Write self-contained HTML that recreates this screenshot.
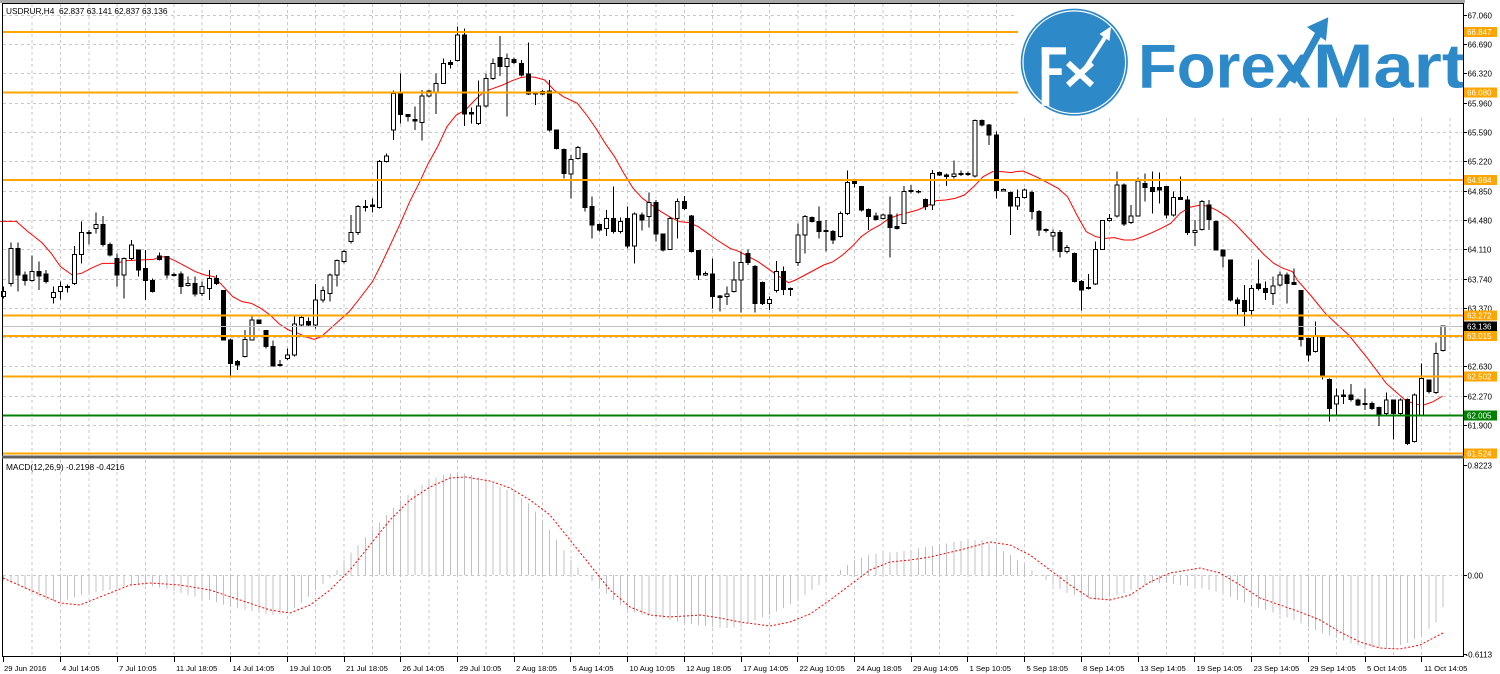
<!DOCTYPE html>
<html><head><meta charset="utf-8">
<style>
html,body{margin:0;padding:0;background:#fff;}
body{width:1500px;height:674px;overflow:hidden;}
svg{display:block}
text{font-family:"Liberation Sans",sans-serif;}
.k *{vector-effect:non-scaling-stroke;shape-rendering:crispEdges;}
.w{fill:#fff;stroke:#000;stroke-width:1}
.b{fill:#000;stroke:#000;stroke-width:1}
.ax{font-size:8px;fill:#000}
.lb{font-size:8px;fill:#fff}
.tl{font-size:7.7px;fill:#000}
</style></head><body>
<svg width="1500" height="674" viewBox="0 0 1500 674" xmlns="http://www.w3.org/2000/svg">
<defs>
<clipPath id="mc" clipPathUnits="userSpaceOnUse"><polygon points="-0.3,0 -0.3,5 2,10 4,18 6,25 8,27 10,22 12,18 15,15 18,10 20,10 23,14 26,20 29,25 32,32 35,36 38,40 40,38 42,28 44,15 46,3 47,-5 48,-15 50,-30 52,-45 54,-60 56,-75 58,-85 60,-95 62,-100 64,-103 66,-100 68,-95 70,-88 72,-82 74,-72 76,-55 78,-35 80,-15 82,0 84,12 86,25 88,35 90,40 92,42 94,45 96,48 98,50 100,52 102,53 104,52 106,45 108,40 110,33 112,25 114,15 116,5 118,-5 120,-15 122,-20 124,-22 126,-23 128,-25 130,-28 132,-30 134,-33 136,-35 138,-35 140,-28 142,-20 144,-10 146,0 148,10 150,18 152,22 154,25 156,22 158,18 160,12 162,8 164,8 166,10 168,12 170,15 172,18 174,25 176,30 178,35 180,40 182,45 184,52 186,58 188,63 190,68 192,72 194,73 196,72 198,68 200,60 202,48 203,32 203.3,32 203.3,0"/></clipPath>
<clipPath id="lc"><rect x="1000" y="0" width="463" height="120"/></clipPath>
</defs>

<rect x="0" y="0" width="1500" height="674" fill="#fff"/>

<!-- grid -->
<g stroke="#c8c8c8" stroke-width="1" stroke-dasharray="3 3" fill="none" shape-rendering="crispEdges">
<path d="M3 15.5H1462M3 44.5H1462M3 73.5H1462M3 103.5H1462M3 132.5H1462M3 161.5H1462M3 191.5H1462M3 220.5H1462M3 249.5H1462M3 279.5H1462M3 308.5H1462M3 337.5H1462M3 366.5H1462M3 396.5H1462M3 425.5H1462M3 575.5H1462"/>
</g>
<g class="k" transform="translate(3.7,0) scale(28.36,1)" stroke="#c8c8c8" stroke-width="1" stroke-dasharray="3 3" fill="none">
<path d="M1 4V455m1-451v451m1-451v451m1-451v451m1-451v451m1-451v451m1-451v451m1-451v451m1-451v451m1-451v451m1-451v451m1-451v451m1-451v451m1-451v451m1-451v451m1-451v451m1-451v451m1-451v451m1-451v451m1-451v451m1-451v451m1-451v451m1-451v451m1-451v451m1-451v451m1-451v451m1-451v451m1-451v451m1-451v451m1-451v451m1-451v451m1-451v451m1-451v451m1-451v451m1-451v451m1-451v451m1-451v451m1-451v451m1-451v451m1-451v451m1-451v451m1-451v451m1-451v451m1-451v451m1-451v451m1-451v451m1-451v451m1-451v451m1-451v451m1-451v451m1-451v451"/>
<path d="M1 460V656m1-196v196m1-196v196m1-196v196m1-196v196m1-196v196m1-196v196m1-196v196m1-196v196m1-196v196m1-196v196m1-196v196m1-196v196m1-196v196m1-196v196m1-196v196m1-196v196m1-196v196m1-196v196m1-196v196m1-196v196m1-196v196m1-196v196m1-196v196m1-196v196m1-196v196m1-196v196m1-196v196m1-196v196m1-196v196m1-196v196m1-196v196m1-196v196m1-196v196m1-196v196m1-196v196m1-196v196m1-196v196m1-196v196m1-196v196m1-196v196m1-196v196m1-196v196m1-196v196m1-196v196m1-196v196m1-196v196m1-196v196m1-196v196m1-196v196"/>
</g>

<!-- logo -->
<g clip-path="url(#lc)">
<rect x="1017" y="4" width="446" height="111" fill="#fff"/>
<circle cx="1074.3" cy="62.2" r="53.6" fill="#2e89c9"/>
<circle cx="1074.3" cy="62.2" r="51.3" fill="none" stroke="#fff" stroke-width="1.2"/>
<rect x="1041.7" y="47.3" width="7.6" height="58.5" fill="#fff"/>
<rect x="1041.7" y="47.3" width="24.3" height="7.2" fill="#fff"/>
<rect x="1041.7" y="68.3" width="20" height="6.7" fill="#fff"/>
<path d="M1068 63L1092 85M1092 63L1068 85" stroke="#fff" stroke-width="6"/>
<path d="M1084 70L1106 36" stroke="#fff" stroke-width="4"/>
<polygon points="1111,26.5 1099.5,34 1109.5,41" fill="#fff"/>
<text x="1138" y="87.3" font-size="62" font-weight="bold" fill="#2e89c9" textLength="173" lengthAdjust="spacingAndGlyphs">Forex</text>
<text x="1313" y="87.3" font-size="62" font-weight="bold" fill="#2e89c9" textLength="153" lengthAdjust="spacingAndGlyphs">Mart</text>
<path d="M1292 82L1319 33" stroke="#2e89c9" stroke-width="7"/>
<polygon points="1328.3,17.3 1307,27 1326,41" fill="#2e89c9"/>
</g>

<!-- moving average -->
<g fill="none" stroke="#ff0000" stroke-width="1">
<polyline style="vector-effect:non-scaling-stroke" transform="translate(0,20) scale(0.46556,0.333333)" points="0,604 35,604 60,635 90,668 110,700 130,740 155,765 175,760 200,742 220,730 250,730 270,722 300,720 330,718 345,710 360,712 380,725 400,740 420,755 440,765 460,770 480,800 500,830 520,845 540,850 560,865 580,885 600,912 620,930 640,940 660,952 675,958 690,950 710,925 730,900 750,875 770,840 800,785 820,730 840,670 860,610 880,545 900,490 920,430 940,380 960,320 980,285 1000,270 1020,240 1040,215 1060,205 1080,195 1100,182 1120,172 1135,170 1150,172 1170,180 1190,210 1210,230 1240,250 1260,285 1280,325 1300,370 1320,410 1340,460 1360,505 1380,535 1400,555 1420,575 1440,592 1460,605 1480,608 1500,620 1520,640 1540,660 1568,685"/>
<polyline style="vector-effect:non-scaling-stroke" transform="translate(730,100) scale(0.46875,0.333333)" points="0,445 20,455 40,470 60,485 80,505 100,525 125,548 140,540 160,525 180,510 200,495 220,485 240,465 260,440 280,410 300,390 320,375 340,355 360,345 380,338 400,330 420,318 440,302 460,300 480,295 500,285 520,260 540,230 560,215 580,215 600,218 610,215 625,213 640,222 660,235 680,250 700,265 720,290 740,345 760,395 780,410 800,415 820,413 840,420 860,420 880,410 900,398 920,385 940,370 960,340 980,322 1000,316 1020,318 1040,332 1060,350 1080,375 1100,405 1120,435 1140,465 1160,490 1180,505 1200,515 1210,540 1240,588 1270,640 1300,680 1320,705 1340,740 1360,775 1380,812 1400,850 1420,875 1440,900 1460,912 1480,915 1500,905 1520,888"/>
</g>

<!-- candles part 1 -->
<g class="k" transform="translate(3.7,20) scale(7.09,0.333333)">
<path stroke="#000" stroke-width="1" fill="none" d="M0 800V835M1 668V800M2 668V815M3 755V797M4 707V785M5 725V810M6 750V790M7 800V850M8 785V838M9 793V818M10 678V795M11 605V730M12 630V673M13 577V640M14 588V680M15 668V710M16 700V800M17 712V835M18 660V720M19 690V770M20 690V840M21 775V818M22 698V722M23 710V775M24 758V770M25 755V822M26 770V800M27 770V830M28 785V828M29 750V840M30 765V795M31 812V960M32 955V1070M33 1020V1050M34 930V1012M35 888V962M36 898V912M37 930V985M38 962V1040M39 1020V1040M40 985V1020M41 885V1010M42 885V920M43 892V920M44 792V925M45 800V848M46 760V845M47 718V800M48 688V730M49 585V670M50 555V645M51 540V575M52 535V578M53 420V565M54 400V428M55 212V360M56 160V310M57 283V305M58 260V330M59 210V362M60 210V232M61 160V282M62 115V192M63 120V145M64 20V125M65 25V318M66 262V310M67 182V315M68 160V262M69 115V180M70 48V168M71 100V290M72 112V132M73 120V170M74 68V225M75 215V255M76 210V225M77 180V335M78 330V388M79 385V475M80 405V535M81 378V418M82 400V575M83 530V655M84 610V635M85 570V648M86 500V640M87 592V640M88 560V685M89 578V730M90 578V632M91 518V622M92 540V665M93 640V695M94 590V690M95 535V655M96 528V570M97 585V698M98 690V780M99 755V768M100 715V865M101 825V875M102 800V855"/>
</g>
<g class="k" transform="translate(1.7,20) scale(7.09,0.333333)">
<rect class="w" x="0" y="815" width=".564" height="15"/>
<rect class="w" x="1" y="685" width=".564" height="105"/>
<rect class="b" x="2" y="685" width=".564" height="80"/>
<rect class="b" x="3" y="765" width=".564" height="17"/>
<rect class="w" x="4" y="755" width=".564" height="27"/>
<rect class="b" x="5" y="755" width=".564" height="13"/>
<rect class="b" x="6" y="762" width=".564" height="23"/>
<rect class="w" x="7" y="818" width=".564" height="14"/>
<rect class="w" x="8" y="800" width=".564" height="15"/>
<rect class="w" x="9" y="800" width=".564" height="3"/>
<rect class="w" x="10" y="703" width=".564" height="87"/>
<rect class="w" x="11" y="637" width=".564" height="66"/>
<rect class="w" x="12" y="637" width=".564" height="4"/>
<rect class="w" x="13" y="613" width=".564" height="12"/>
<rect class="b" x="14" y="613" width=".564" height="60"/>
<rect class="b" x="15" y="673" width=".564" height="32"/>
<rect class="b" x="16" y="715" width=".564" height="50"/>
<rect class="w" x="17" y="715" width=".564" height="50"/>
<rect class="w" x="18" y="675" width=".564" height="40"/>
<rect class="b" x="19" y="690" width=".564" height="60"/>
<rect class="b" x="20" y="745" width=".564" height="37"/>
<rect class="b" x="21" y="782" width=".564" height="33"/>
<rect class="b" x="22" y="708" width=".564" height="10"/>
<rect class="b" x="23" y="710" width=".564" height="55"/>
<rect class="b" x="24" y="764" width=".564" height="2"/>
<rect class="b" x="25" y="762" width=".564" height="38"/>
<rect class="w" x="26" y="790" width=".564" height="7"/>
<rect class="b" x="27" y="790" width=".564" height="32"/>
<rect class="w" x="28" y="800" width=".564" height="20"/>
<rect class="w" x="29" y="775" width=".564" height="30"/>
<rect class="b" x="30" y="775" width=".564" height="15"/>
<rect class="b" x="31" y="812" width=".564" height="148"/>
<rect class="b" x="32" y="960" width=".564" height="70"/>
<rect class="b" x="33" y="1025" width=".564" height="10"/>
<rect class="w" x="34" y="958" width=".564" height="52"/>
<rect class="w" x="35" y="900" width=".564" height="60"/>
<rect class="b" x="36" y="900" width=".564" height="10"/>
<rect class="b" x="37" y="932" width=".564" height="48"/>
<rect class="b" x="38" y="980" width=".564" height="58"/>
<rect class="b" x="39" y="1034" width=".564" height="2"/>
<rect class="w" x="40" y="1005" width=".564" height="10"/>
<rect class="w" x="41" y="912" width=".564" height="93"/>
<rect class="w" x="42" y="893" width=".564" height="22"/>
<rect class="b" x="43" y="905" width=".564" height="10"/>
<rect class="w" x="44" y="840" width=".564" height="75"/>
<rect class="w" x="45" y="812" width=".564" height="28"/>
<rect class="w" x="46" y="765" width=".564" height="55"/>
<rect class="w" x="47" y="722" width=".564" height="43"/>
<rect class="w" x="48" y="695" width=".564" height="30"/>
<rect class="w" x="49" y="638" width=".564" height="27"/>
<rect class="w" x="50" y="560" width=".564" height="78"/>
<rect class="b" x="51" y="560" width=".564" height="3"/>
<rect class="b" x="52" y="555" width=".564" height="5"/>
<rect class="w" x="53" y="425" width=".564" height="137"/>
<rect class="w" x="54" y="408" width=".564" height="17"/>
<rect class="w" x="55" y="220" width=".564" height="110"/>
<rect class="b" x="56" y="220" width=".564" height="63"/>
<rect class="b" x="57" y="283" width=".564" height="7"/>
<rect class="b" x="58" y="298" width=".564" height="5"/>
<rect class="w" x="59" y="228" width=".564" height="80"/>
<rect class="w" x="60" y="213" width=".564" height="15"/>
<rect class="w" x="61" y="190" width=".564" height="28"/>
<rect class="w" x="62" y="130" width=".564" height="60"/>
<rect class="b" x="63" y="128" width=".564" height="5"/>
<rect class="w" x="64" y="45" width=".564" height="77"/>
<rect class="b" x="65" y="45" width=".564" height="237"/>
<rect class="b" x="66" y="278" width=".564" height="4"/>
<rect class="w" x="67" y="258" width=".564" height="52"/>
<rect class="w" x="68" y="175" width=".564" height="83"/>
<rect class="w" x="69" y="130" width=".564" height="45"/>
<rect class="b" x="70" y="112" width=".564" height="28"/>
<rect class="w" x="71" y="115" width=".564" height="25"/>
<rect class="b" x="72" y="118" width=".564" height="10"/>
<rect class="b" x="73" y="130" width=".564" height="35"/>
<rect class="b" x="74" y="162" width=".564" height="60"/>
<rect class="b" x="75" y="218" width=".564" height="4"/>
<rect class="w" x="76" y="215" width=".564" height="7"/>
<rect class="b" x="77" y="213" width=".564" height="117"/>
<rect class="b" x="78" y="330" width=".564" height="55"/>
<rect class="b" x="79" y="388" width=".564" height="72"/>
<rect class="w" x="80" y="418" width=".564" height="44"/>
<rect class="w" x="81" y="382" width=".564" height="33"/>
<rect class="b" x="82" y="400" width=".564" height="162"/>
<rect class="b" x="83" y="560" width=".564" height="55"/>
<rect class="b" x="84" y="613" width=".564" height="17"/>
<rect class="w" x="85" y="595" width=".564" height="30"/>
<rect class="b" x="86" y="595" width=".564" height="40"/>
<rect class="w" x="87" y="605" width=".564" height="30"/>
<rect class="b" x="88" y="595" width=".564" height="83"/>
<rect class="w" x="89" y="582" width=".564" height="96"/>
<rect class="b" x="90" y="585" width=".564" height="15"/>
<rect class="w" x="91" y="548" width=".564" height="42"/>
<rect class="b" x="92" y="548" width=".564" height="94"/>
<rect class="b" x="93" y="642" width=".564" height="48"/>
<rect class="w" x="94" y="595" width=".564" height="93"/>
<rect class="w" x="95" y="545" width=".564" height="50"/>
<rect class="b" x="96" y="545" width=".564" height="20"/>
<rect class="b" x="97" y="588" width=".564" height="107"/>
<rect class="b" x="98" y="692" width=".564" height="73"/>
<rect class="w" x="99" y="760" width=".564" height="5"/>
<rect class="b" x="100" y="762" width=".564" height="68"/>
<rect class="b" x="101" y="828" width=".564" height="4"/>
<rect class="w" x="102" y="822" width=".564" height="8"/>
</g>

<!-- candles part 2 -->
<g class="k" transform="translate(3.7,100) scale(7.09,0.333333)">
<path stroke="#000" stroke-width="1" fill="none" d="M103 485V578M104 455V637M105 448V495M106 495V637M107 545V615M108 590V630M109 483V578M110 500V585M111 562V588M112 370V498M113 345V460M114 350V368M115 320V415M116 360V455M117 390V432M118 335V412M119 212V345M120 238V262M121 258V335M122 325V390M123 338V362M124 340V358M125 290V472M126 340V388M127 258V372M128 255V280M129 270V280M130 295V330M131 210V330M132 215V228M133 220V258M134 182V235M135 212V228M136 215V228M137 58V232M138 58V80M139 72V135M140 95V295M141 265V275M142 275V405M143 268V330M144 265V295M145 272V358M146 330V408M147 385V398M148 388V452M149 390V472M150 435V460M151 458V548M152 540V632M153 522V568M154 425V555M155 360V450M156 342V364M157 215V352M158 250V378M159 315V372M160 232V350M161 220V305M162 215V340M163 218V310M164 258V355M165 275V350M166 230V300M167 288V405M168 360V438M169 300V392M170 300V390M171 362V452M172 448V502M173 478V605M174 592V645M175 555V680M176 555V645M177 478V572M178 545V600M179 530V615M180 515V560M181 518V610M182 505V555M183 570V740M184 712V785M185 665V758M186 710V838M187 835V965M188 865V950M189 868V912M190 852V905M191 895V918M192 865V930M193 905V930M194 920V978M195 878V945M196 898V1018M197 895V945M198 895V1035M199 880V1028M200 790V948M201 838V880M202 728V882M203 678V755"/>
</g>
<g class="k" transform="translate(1.7,100) scale(7.09,0.333333)">
<rect class="w" x="103" y="540" width=".564" height="35"/>
<rect class="w" x="104" y="488" width=".564" height="52"/>
<rect class="b" x="105" y="460" width=".564" height="28"/>
<rect class="b" x="106" y="500" width=".564" height="110"/>
<rect class="b" x="107" y="548" width=".564" height="62"/>
<rect class="w" x="108" y="598" width=".564" height="12"/>
<rect class="w" x="109" y="515" width=".564" height="57"/>
<rect class="b" x="110" y="515" width=".564" height="53"/>
<rect class="b" x="111" y="566" width=".564" height="3"/>
<rect class="w" x="112" y="405" width=".564" height="83"/>
<rect class="w" x="113" y="350" width=".564" height="55"/>
<rect class="b" x="114" y="352" width=".564" height="13"/>
<rect class="b" x="115" y="365" width=".564" height="30"/>
<rect class="b" x="116" y="392" width=".564" height="3"/>
<rect class="b" x="117" y="395" width=".564" height="25"/>
<rect class="w" x="118" y="340" width=".564" height="70"/>
<rect class="w" x="119" y="248" width=".564" height="92"/>
<rect class="b" x="120" y="245" width=".564" height="5"/>
<rect class="b" x="121" y="260" width=".564" height="70"/>
<rect class="b" x="122" y="328" width=".564" height="22"/>
<rect class="b" x="123" y="348" width=".564" height="10"/>
<rect class="w" x="124" y="345" width=".564" height="10"/>
<rect class="b" x="125" y="345" width=".564" height="37"/>
<rect class="b" x="126" y="380" width=".564" height="5"/>
<rect class="w" x="127" y="275" width=".564" height="95"/>
<rect class="b" x="128" y="272" width=".564" height="2"/>
<rect class="b" x="129" y="274" width=".564" height="2"/>
<rect class="b" x="130" y="298" width=".564" height="22"/>
<rect class="w" x="131" y="220" width=".564" height="95"/>
<rect class="b" x="132" y="218" width=".564" height="7"/>
<rect class="b" x="133" y="225" width=".564" height="5"/>
<rect class="w" x="134" y="222" width=".564" height="8"/>
<rect class="b" x="135" y="221" width=".564" height="2"/>
<rect class="b" x="136" y="221" width=".564" height="2"/>
<rect class="w" x="137" y="62" width=".564" height="166"/>
<rect class="b" x="138" y="62" width=".564" height="13"/>
<rect class="b" x="139" y="75" width=".564" height="30"/>
<rect class="b" x="140" y="105" width=".564" height="167"/>
<rect class="w" x="141" y="268" width=".564" height="5"/>
<rect class="b" x="142" y="278" width=".564" height="40"/>
<rect class="w" x="143" y="292" width=".564" height="26"/>
<rect class="w" x="144" y="270" width=".564" height="22"/>
<rect class="b" x="145" y="278" width=".564" height="57"/>
<rect class="b" x="146" y="335" width=".564" height="55"/>
<rect class="b" x="147" y="389" width=".564" height="2"/>
<rect class="w" x="148" y="398" width=".564" height="10"/>
<rect class="b" x="149" y="398" width=".564" height="57"/>
<rect class="w" x="150" y="442" width=".564" height="13"/>
<rect class="b" x="151" y="460" width=".564" height="85"/>
<rect class="b" x="152" y="545" width=".564" height="25"/>
<rect class="b" x="153" y="562" width=".564" height="4"/>
<rect class="w" x="154" y="448" width=".564" height="104"/>
<rect class="w" x="155" y="362" width=".564" height="86"/>
<rect class="w" x="156" y="355" width=".564" height="7"/>
<rect class="w" x="157" y="255" width=".564" height="93"/>
<rect class="b" x="158" y="255" width=".564" height="117"/>
<rect class="w" x="159" y="348" width=".564" height="20"/>
<rect class="w" x="160" y="243" width=".564" height="105"/>
<rect class="b" x="161" y="250" width=".564" height="12"/>
<rect class="b" x="162" y="262" width=".564" height="13"/>
<rect class="b" x="163" y="262" width=".564" height="8"/>
<rect class="b" x="164" y="260" width=".564" height="85"/>
<rect class="w" x="165" y="292" width=".564" height="53"/>
<rect class="b" x="166" y="292" width=".564" height="6"/>
<rect class="b" x="167" y="300" width=".564" height="98"/>
<rect class="w" x="168" y="392" width=".564" height="6"/>
<rect class="w" x="169" y="305" width=".564" height="83"/>
<rect class="b" x="170" y="315" width=".564" height="43"/>
<rect class="b" x="171" y="365" width=".564" height="85"/>
<rect class="b" x="172" y="450" width=".564" height="18"/>
<rect class="b" x="173" y="480" width=".564" height="120"/>
<rect class="b" x="174" y="600" width=".564" height="10"/>
<rect class="b" x="175" y="602" width=".564" height="33"/>
<rect class="w" x="176" y="565" width=".564" height="67"/>
<rect class="b" x="177" y="552" width=".564" height="13"/>
<rect class="b" x="178" y="565" width=".564" height="13"/>
<rect class="w" x="179" y="558" width=".564" height="22"/>
<rect class="w" x="180" y="525" width=".564" height="30"/>
<rect class="b" x="181" y="525" width=".564" height="25"/>
<rect class="b" x="182" y="548" width=".564" height="5"/>
<rect class="b" x="183" y="572" width=".564" height="146"/>
<rect class="b" x="184" y="715" width=".564" height="50"/>
<rect class="w" x="185" y="710" width=".564" height="45"/>
<rect class="b" x="186" y="710" width=".564" height="120"/>
<rect class="b" x="187" y="838" width=".564" height="87"/>
<rect class="w" x="188" y="888" width=".564" height="24"/>
<rect class="b" x="189" y="885" width=".564" height="5"/>
<rect class="b" x="190" y="885" width=".564" height="13"/>
<rect class="b" x="191" y="900" width=".564" height="15"/>
<rect class="b" x="192" y="911" width=".564" height="2"/>
<rect class="b" x="193" y="910" width=".564" height="15"/>
<rect class="b" x="194" y="922" width=".564" height="26"/>
<rect class="w" x="195" y="900" width=".564" height="40"/>
<rect class="b" x="196" y="900" width=".564" height="40"/>
<rect class="w" x="197" y="900" width=".564" height="40"/>
<rect class="b" x="198" y="898" width=".564" height="132"/>
<rect class="w" x="199" y="885" width=".564" height="140"/>
<rect class="w" x="200" y="835" width=".564" height="110"/>
<rect class="b" x="201" y="840" width=".564" height="35"/>
<rect class="w" x="202" y="760" width=".564" height="118"/>
<rect class="w" x="203" y="678" width=".564" height="74"/>
</g>

<!-- level lines -->
<g fill="none" shape-rendering="crispEdges">
<path d="M3 32H1018M3 92.5H1018M3 180H1463M3 315.5H1463M3 336H1463M3 376.5H1463M3 453.5H1463" stroke="#ffa500" stroke-width="2"/>
<path d="M3 415.5H1463" stroke="#008000" stroke-width="2"/>
<path d="M3 326.5H1463" stroke="#c0c0c0" stroke-width="1"/>
</g>

<!-- MACD -->
<g class="k" transform="translate(3.7,575) scale(7.09,1)">
<path clip-path="url(#mc)" stroke="#c0c0c0" stroke-width="1" fill="none" d="M0-130V100m1-230v230m1-230v230m1-230v230m1-230v230m1-230v230m1-230v230m1-230v230m1-230v230m1-230v230m1-230v230m1-230v230m1-230v230m1-230v230m1-230v230m1-230v230m1-230v230m1-230v230m1-230v230m1-230v230m1-230v230m1-230v230m1-230v230m1-230v230m1-230v230m1-230v230m1-230v230m1-230v230m1-230v230m1-230v230m1-230v230m1-230v230m1-230v230m1-230v230m1-230v230m1-230v230m1-230v230m1-230v230m1-230v230m1-230v230m1-230v230m1-230v230m1-230v230m1-230v230m1-230v230m1-230v230m1-230v230m1-230v230m1-230v230m1-230v230m1-230v230m1-230v230m1-230v230m1-230v230m1-230v230m1-230v230m1-230v230m1-230v230m1-230v230m1-230v230m1-230v230m1-230v230m1-230v230m1-230v230m1-230v230m1-230v230m1-230v230m1-230v230m1-230v230m1-230v230m1-230v230m1-230v230m1-230v230m1-230v230m1-230v230m1-230v230m1-230v230m1-230v230m1-230v230m1-230v230m1-230v230m1-230v230m1-230v230m1-230v230m1-230v230m1-230v230m1-230v230m1-230v230m1-230v230m1-230v230m1-230v230m1-230v230m1-230v230m1-230v230m1-230v230m1-230v230m1-230v230m1-230v230m1-230v230m1-230v230m1-230v230m1-230v230m1-230v230m1-230v230m1-230v230m1-230v230m1-230v230m1-230v230m1-230v230m1-230v230m1-230v230m1-230v230m1-230v230m1-230v230m1-230v230m1-230v230m1-230v230m1-230v230m1-230v230m1-230v230m1-230v230m1-230v230m1-230v230m1-230v230m1-230v230m1-230v230m1-230v230m1-230v230m1-230v230m1-230v230m1-230v230m1-230v230m1-230v230m1-230v230m1-230v230m1-230v230m1-230v230m1-230v230m1-230v230m1-230v230m1-230v230m1-230v230m1-230v230m1-230v230m1-230v230m1-230v230m1-230v230m1-230v230m1-230v230m1-230v230m1-230v230m1-230v230m1-230v230m1-230v230m1-230v230m1-230v230m1-230v230m1-230v230m1-230v230m1-230v230m1-230v230m1-230v230m1-230v230m1-230v230m1-230v230m1-230v230m1-230v230m1-230v230m1-230v230m1-230v230m1-230v230m1-230v230m1-230v230m1-230v230m1-230v230m1-230v230m1-230v230m1-230v230m1-230v230m1-230v230m1-230v230m1-230v230m1-230v230m1-230v230m1-230v230m1-230v230m1-230v230m1-230v230m1-230v230m1-230v230m1-230v230m1-230v230m1-230v230m1-230v230m1-230v230m1-230v230m1-230v230m1-230v230m1-230v230m1-230v230m1-230v230m1-230v230m1-230v230m1-230v230m1-230v230m1-230v230m1-230v230"/>
</g>
<polyline fill="none" stroke="#ff0000" stroke-width="1" stroke-dasharray="2 2" points="3,578 30,590 60,603 80,605 100,597 130,585 150,583 180,585 210,590 240,600 270,610 290,613 310,605 330,590 350,570 370,545 390,520 410,500 430,487 450,478 465,477 490,481 510,488 530,500 550,515 570,540 590,565 610,590 630,607 650,615 670,617 700,615 720,618 740,622 770,626 790,622 810,614 830,600 850,585 870,570 890,562 910,560 930,557 960,550 990,542 1010,545 1030,555 1050,570 1070,585 1090,598 1110,600 1130,595 1150,582 1170,573 1200,568 1220,573 1240,585 1260,598 1280,605 1300,612 1320,620 1340,632 1360,642 1380,648 1400,649 1420,645 1443,633"/>

<!-- frames -->
<g shape-rendering="crispEdges" fill="none">
<rect x="0" y="0" width="1465" height="3" fill="#a8a8a8"/>
<path d="M2.5 3V657M1463.5 3V657M2 3.5H1464M2 656.5H1464" stroke="#000" stroke-width="1"/>
<rect x="2" y="455.5" width="1462" height="3" fill="#606060"/>
</g>

<!-- header texts -->
<text x="6" y="14" style="font-size:8.3px" fill="#000">USDRUR,H4&#160; 62.837 63.141 62.837 63.136</text>
<text x="6" y="470" style="font-size:8.3px" fill="#000">MACD(12,26,9) -0.2198 -0.4216</text>

<!-- price axis ticks -->
<path shape-rendering="crispEdges" stroke="#000" stroke-width="1" d="M1463 15.5H1467M1463 44.5H1467M1463 73.5H1467M1463 103.5H1467M1463 132.5H1467M1463 161.5H1467M1463 191.5H1467M1463 220.5H1467M1463 249.5H1467M1463 279.5H1467M1463 308.5H1467M1463 366.5H1467M1463 396.5H1467M1463 425.5H1467M1463 465.5H1467M1463 575.5H1467M1463 654.5H1467"/>
<g class="ax">
<text x="1467.5" y="18.5">67.060</text>
<text x="1467.5" y="47.5">66.690</text>
<text x="1467.5" y="76.5">66.320</text>
<text x="1467.5" y="106.5">65.960</text>
<text x="1467.5" y="135.5">65.590</text>
<text x="1467.5" y="164.5">65.220</text>
<text x="1467.5" y="194.5">64.850</text>
<text x="1467.5" y="223.5">64.480</text>
<text x="1467.5" y="252.5">64.110</text>
<text x="1467.5" y="282.5">63.740</text>
<text x="1467.5" y="311.5">63.370</text>
<text x="1467.5" y="369.5">62.630</text>
<text x="1467.5" y="399.5">62.270</text>
<text x="1467.5" y="428.5">61.900</text>
<text x="1467.5" y="468.5">0.8223</text>
<text x="1467.5" y="578.5">0.00</text>
<text x="1465.5" y="657.5">-0.6113</text>
</g>
<!-- level labels -->
<g shape-rendering="crispEdges">
<rect x="1464" y="27" width="33" height="10" fill="#ffa500"/>
<rect x="1464" y="87.5" width="33" height="10" fill="#ffa500"/>
<rect x="1464" y="175" width="33" height="10" fill="#ffa500"/>
<rect x="1464" y="310.5" width="33" height="10" fill="#ffa500"/>
<rect x="1464" y="321.5" width="33" height="10" fill="#000"/>
<rect x="1464" y="331" width="33" height="10" fill="#ffa500"/>
<rect x="1464" y="371.5" width="33" height="10" fill="#ffa500"/>
<rect x="1464" y="410.5" width="33" height="10" fill="#008000"/>
<rect x="1464" y="448.5" width="33" height="10" fill="#ffa500"/>
</g>
<g class="lb">
<text x="1467" y="35">66.847</text>
<text x="1467" y="95.5">66.080</text>
<text x="1467" y="183">64.984</text>
<text x="1467" y="318.5">63.272</text>
<text x="1467" y="329.5">63.136</text>
<text x="1467" y="339">63.015</text>
<text x="1467" y="379.5">62.502</text>
<text x="1467" y="418.5">62.005</text>
<text x="1467" y="456.5">61.524</text>
</g>

<!-- time axis -->
<path shape-rendering="crispEdges" stroke="#000" stroke-width="1" d="M3.5 657V662M60.5 657V662M117.5 657V662M174.5 657V662M230.5 657V662M287.5 657V662M344.5 657V662M400.5 657V662M457.5 657V662M514.5 657V662M570.5 657V662M627.5 657V662M684.5 657V662M741.5 657V662M797.5 657V662M854.5 657V662M911.5 657V662M967.5 657V662M1024.5 657V662M1081.5 657V662M1138.5 657V662M1194.5 657V662M1251.5 657V662M1308.5 657V662M1365.5 657V662M1421.5 657V662"/>
<g class="tl">
<text x="4" y="671">29 Jun 2016</text>
<text x="62" y="671">4 Jul 14:05</text>
<text x="119" y="671">7 Jul 10:05</text>
<text x="176" y="671">11 Jul 18:05</text>
<text x="232.5" y="671">14 Jul 14:05</text>
<text x="289.5" y="671">19 Jul 10:05</text>
<text x="346" y="671">21 Jul 18:05</text>
<text x="402.5" y="671">26 Jul 14:05</text>
<text x="459.5" y="671">29 Jul 10:05</text>
<text x="516" y="671">2 Aug 18:05</text>
<text x="572.5" y="671">5 Aug 14:05</text>
<text x="629.5" y="671">10 Aug 10:05</text>
<text x="686" y="671">12 Aug 18:05</text>
<text x="743" y="671">17 Aug 14:05</text>
<text x="799.5" y="671">22 Aug 10:05</text>
<text x="856.5" y="671">24 Aug 18:05</text>
<text x="913" y="671">29 Aug 14:05</text>
<text x="969.5" y="671">1 Sep 10:05</text>
<text x="1026.5" y="671">5 Sep 18:05</text>
<text x="1083" y="671">8 Sep 14:05</text>
<text x="1140" y="671">13 Sep 14:05</text>
<text x="1196.5" y="671">19 Sep 14:05</text>
<text x="1253.5" y="671">23 Sep 14:05</text>
<text x="1310" y="671">29 Sep 14:05</text>
<text x="1367" y="671">5 Oct 14:05</text>
<text x="1424" y="671">11 Oct 14:05</text>
</g>
</svg>
</body></html>
